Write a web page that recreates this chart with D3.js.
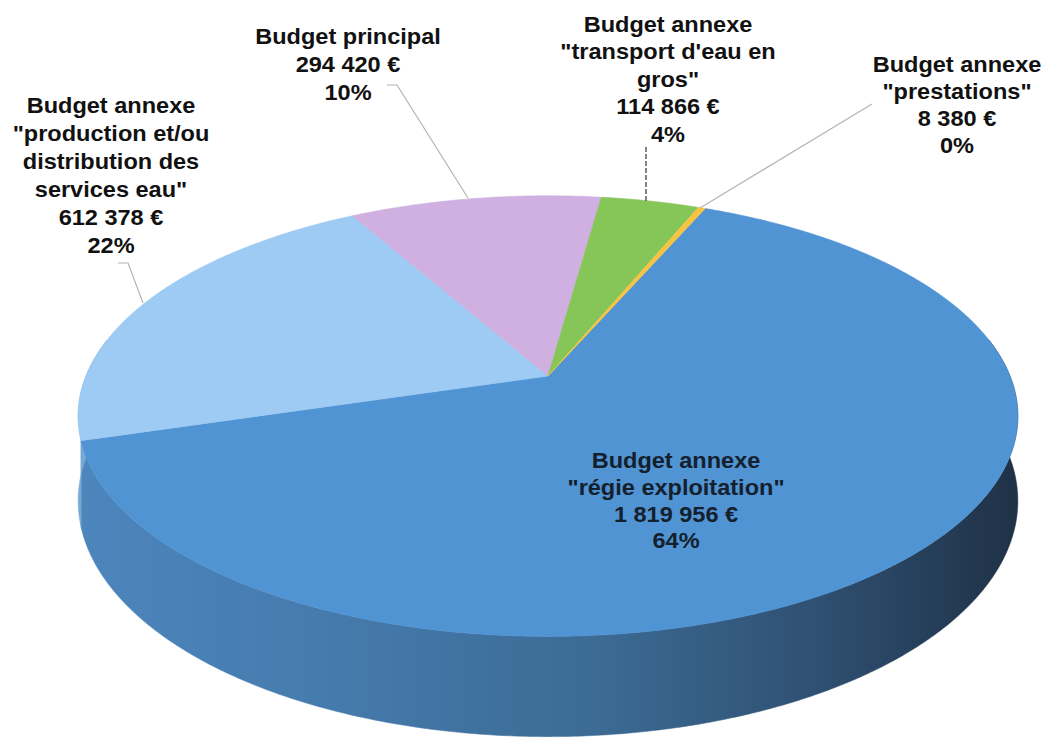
<!DOCTYPE html>
<html>
<head>
<meta charset="utf-8">
<script src="https://cdn.jsdelivr.net/npm/d3@7"></script>
<style>
  html, body { margin: 0; padding: 0; background: #ffffff; }
  svg { display: block; }
</style>
</head>
<body>
<div id="chart"></div>
<script>
// ---------- DATA ----------
const categories = [
  'Budget annexe "régie exploitation"',
  'Budget annexe "production et/ou distribution des services eau"',
  'Budget principal',
  'Budget annexe "transport d\'eau en gros"',
  'Budget annexe "prestations"'
];
const values = [1819956, 612378, 294420, 114866, 8380];
const valueLabels = ['1 819 956 €', '612 378 €', '294 420 €', '114 866 €', '8 380 €'];
const percentLabels = ['64%', '22%', '10%', '4%', '0%'];
const nameLines = [
  ['Budget annexe', '"régie exploitation"'],
  ['Budget annexe', '"production et/ou', 'distribution des', 'services eau"'],
  ['Budget principal'],
  ['Budget annexe', '"transport d\'eau en', 'gros"'],
  ['Budget annexe', '"prestations"']
];
const topColors = ['#5094d4', '#9dcbf3', '#cfb0e0', '#86c557', '#f6c443'];
const sideColors = ['url(#sideGrad)', '#78a8d6', '#a88bbd', '#5f9a3a', '#c99a2a'];

// ---------- LAYOUT ----------
const W = 1044, H = 743;
const cx = 548, cy = 376;     // apex of the pie (projected centre)
const Rx = 462, Ry = 213;     // projected radii
const k = 0.182;              // perspective strength
const depth = 82;             // side thickness
const startDeg = 23.4;

const svg = d3.select('#chart').append('svg')
  .attr('width', W).attr('height', H)
  .style('font-family', '"Liberation Sans", Arial, Helvetica, sans-serif');

const defs = svg.append('defs');
const g1 = defs.append('linearGradient').attr('id', 'sideGrad')
  .attr('gradientUnits', 'userSpaceOnUse')
  .attr('x1', 78).attr('x2', 1017).attr('y1', 0).attr('y2', 0);
[[0, '#4d86bd'], [0.3, '#4479aa'], [0.55, '#3c6b94'], [0.78, '#2f5173'], [1, '#1f3146']]
  .forEach(([o, c]) => g1.append('stop').attr('offset', o).attr('stop-color', c));

const pie = d3.pie().sort(null).value(d => d)
  .startAngle(startDeg * Math.PI / 180)
  .endAngle(startDeg * Math.PI / 180 + 2 * Math.PI);
const arcs = pie(values);

function proj(theta, r = 1, d = 0) {
  const u = r * Math.sin(theta), v = -r * Math.cos(theta);
  const w = 1 - k * v;
  return [cx + Rx * u / w, cy + Ry * v / w + d * depth / w];
}
function sample(a0, a1) {
  const n = Math.max(2, Math.ceil(Math.abs(a1 - a0) / (Math.PI / 360)));
  return d3.range(n + 1).map(i => a0 + (a1 - a0) * i / n);
}
const line = d3.line();

// ---------- SIDE WALLS ----------
const visLo = 80 * Math.PI / 180, visHi = 280 * Math.PI / 180;
const gSide = svg.append('g');
arcs.forEach((a, i) => {
  // check in both turns
  [0, 2 * Math.PI].forEach(off => {
    const lo = Math.max(a.startAngle, visLo + off), hi = Math.min(a.endAngle, visHi + off);
    if (hi <= lo) return;
    const ts = sample(lo, hi);
    const pts = ts.map(t => proj(t, 1, 0)).concat(ts.slice().reverse().map(t => proj(t, 1, 1)));
    gSide.append('path').attr('d', line(pts) + 'Z')
      .attr('fill', sideColors[i]).attr('stroke', sideColors[i]).attr('stroke-width', 0.5);
  });
});

// ---------- TOP FACES ----------
const gTop = svg.append('g');
arcs.forEach((a, i) => {
  const ts = sample(a.startAngle, a.endAngle);
  const pts = [[cx, cy]].concat(ts.map(t => proj(t)));
  gTop.append('path').attr('d', line(pts) + 'Z')
    .attr('fill', topColors[i]).attr('stroke', topColors[i]).attr('stroke-width', 0.6)
    .attr('stroke-linejoin', 'round');
});

// ---------- LEADER LINES ----------
const leaders = [
  null,
  [[118, 263], [128, 263], [143, 303]],
  [[387, 85], [397, 85], [468, 198]],
  [[646, 147], [646, 201]],
  [[872, 104], [700, 208]]
];
const gLead = svg.append('g');
leaders.forEach((L, i) => {
  if (!L) return;
  gLead.append('path').attr('d', line(L)).attr('fill', 'none')
    .attr('stroke', i === 3 ? '#444' : '#b4b4b4')
    .attr('stroke-width', i === 3 ? 1.3 : 1.2)
    .attr('stroke-dasharray', i === 3 ? '5,2' : null);
});

// ---------- LABELS ----------
const labelPos = [
  { x: 676, y: 468, lh: 26.8 },
  { x: 111, y: 113, lh: 28 },
  { x: 348, y: 44, lh: 28 },
  { x: 668, y: 32, lh: 27.5 },
  { x: 957, y: 72, lh: 27 }
];
const gLab = svg.append('g');
arcs.forEach((a, i) => {
  const lines = nameLines[i].concat([valueLabels[i], percentLabels[i]]);
  const p = labelPos[i];
  const t = gLab.append('text')
    .attr('text-anchor', 'middle')
    .attr('font-size', 22)
    .attr('font-weight', 'bold')
    .attr('fill', i === 0 ? '#14202c' : '#111')
    .attr('transform', `translate(${p.x},${p.y}) scale(1.07,1)`);
  lines.forEach((s, j) => {
    t.append('tspan').attr('x', 0).attr('y', j * p.lh).text(s);
  });
});
</script>
</body>
</html>
